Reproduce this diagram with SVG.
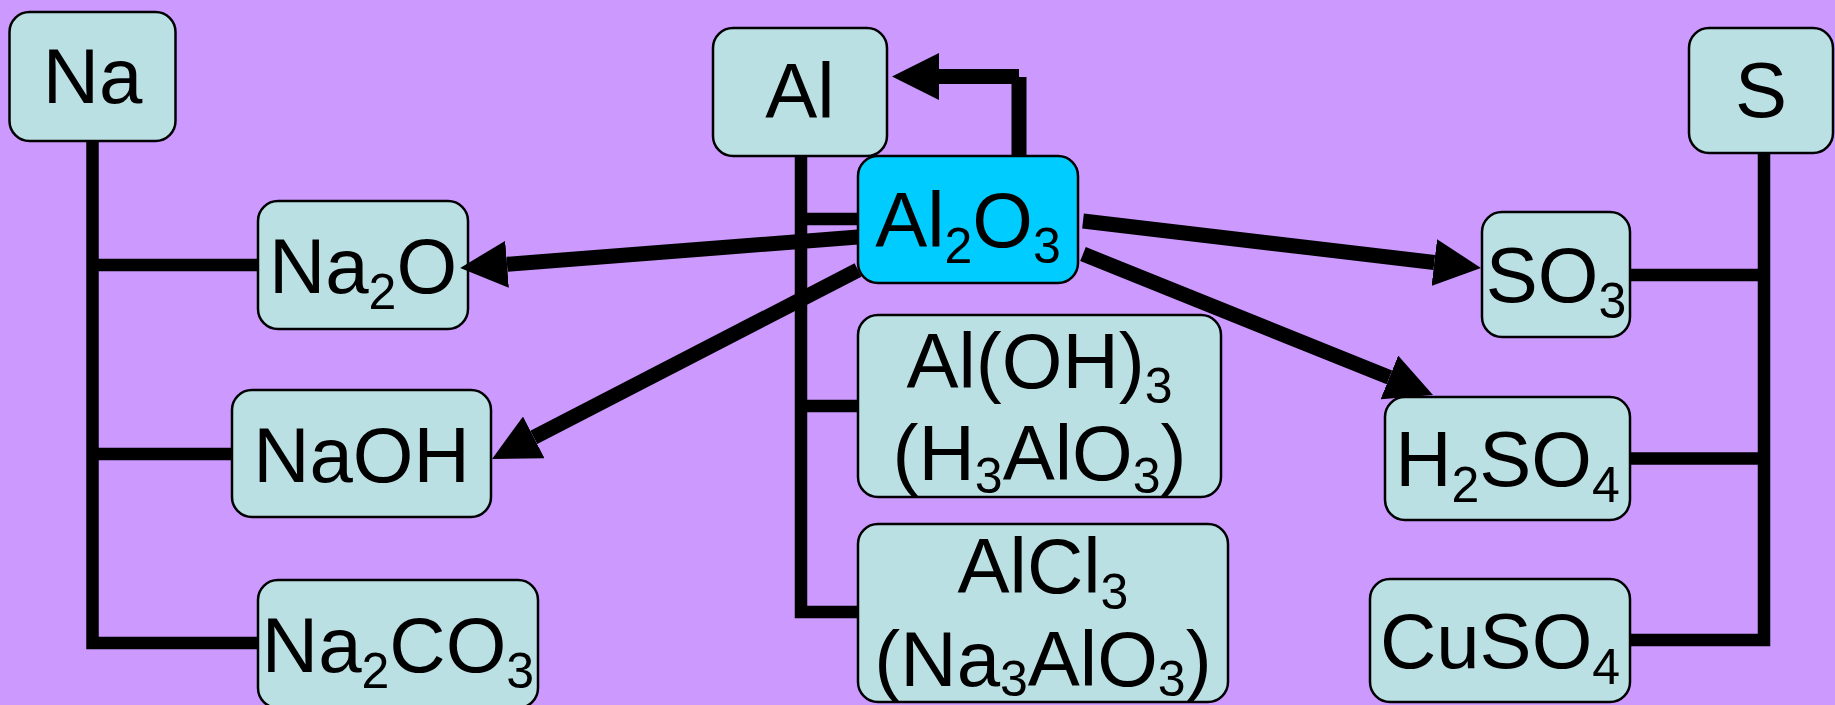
<svg xmlns="http://www.w3.org/2000/svg" width="1835" height="705" viewBox="0 0 1835 705">
<style>
.box{fill:#BBE0E3;stroke:#000;stroke-width:2.5}
.hl{fill:#00CCFF}
.t{font-family:"Liberation Sans",Arial,sans-serif;font-size:78px;fill:#000;text-anchor:middle}
.s{font-size:50px}
.tree{fill:none;stroke:#000;stroke-width:12.5;stroke-linejoin:miter}
.arr{fill:none;stroke:#000;stroke-width:15}
</style>
<defs>
<marker id="ah" markerUnits="userSpaceOnUse" viewBox="0 0 47 47" markerWidth="47" markerHeight="47" refX="0" refY="23.5" orient="auto">
<path d="M0,0 L47,23.5 L0,47 z" fill="#000"/>
</marker>
</defs>
<rect width="1835" height="705" fill="#CC99FF"/>

<g id="nodes">
<g id="n-Na"><rect class="box" x="9.5" y="12" width="166" height="129" rx="20"/><text class="t" x="92.5" y="103">Na</text></g>
<g id="n-Na2O"><rect class="box" x="258" y="201" width="210" height="128" rx="20"/><text class="t" x="363" y="293">Na<tspan class="s" dy="16">2</tspan><tspan dy="-16">O</tspan></text></g>
<g id="n-NaOH"><rect class="box" x="232" y="390" width="259" height="127" rx="20"/><text class="t" x="361.5" y="482">NaOH</text></g>
<g id="n-Na2CO3"><rect class="box" x="258" y="580" width="280" height="128" rx="20"/><text class="t" x="398" y="672">Na<tspan class="s" dy="16">2</tspan><tspan dy="-16">CO</tspan><tspan class="s" dy="16">3</tspan></text></g>
<g id="n-Al"><rect class="box" x="713" y="28" width="174" height="128" rx="20"/><text class="t" x="800" y="118">Al</text></g>
<g id="n-Al2O3"><rect class="box hl" x="858" y="156" width="220" height="127" rx="20"/><text class="t" x="968" y="247">Al<tspan class="s" dy="16">2</tspan><tspan dy="-16">O</tspan><tspan class="s" dy="16">3</tspan></text></g>
<g id="n-AlOH3"><rect class="box" x="858" y="315" width="363" height="182" rx="20"/><text class="t" x="1039.5" y="388">Al(OH)<tspan class="s" dy="15">3</tspan></text><text class="t" x="1039.5" y="480">(H<tspan class="s" dy="13">3</tspan><tspan dy="-13">AlO</tspan><tspan class="s" dy="13">3</tspan><tspan dy="-13">)</tspan></text></g>
<g id="n-AlCl3"><rect class="box" x="858" y="524" width="370" height="178" rx="20"/><text class="t" x="1043" y="593">AlCl<tspan class="s" dy="16">3</tspan></text><text class="t" x="1043" y="686">(Na<tspan class="s" dy="10">3</tspan><tspan dy="-10">AlO</tspan><tspan class="s" dy="10">3</tspan><tspan dy="-10">)</tspan></text></g>
<g id="n-S"><rect class="box" x="1689" y="28" width="144" height="125" rx="20"/><text class="t" x="1761" y="117">S</text></g>
<g id="n-SO3"><rect class="box" x="1482" y="212" width="148" height="125" rx="20"/><text class="t" x="1556" y="302">SO<tspan class="s" dy="16">3</tspan></text></g>
<g id="n-H2SO4"><rect class="box" x="1385" y="397" width="245" height="123" rx="20"/><text class="t" x="1507.5" y="486">H<tspan class="s" dy="16">2</tspan><tspan dy="-16">SO</tspan><tspan class="s" dy="16">4</tspan></text></g>
<g id="n-CuSO4"><rect class="box" x="1370" y="579" width="260" height="123" rx="20"/><text class="t" x="1500" y="668">CuSO<tspan class="s" dy="16">4</tspan></text></g>
</g>

<g id="connectors">
<path class="tree" d="M92.5,141 V643 H258"/>
<path class="tree" d="M92.5,265 H258"/>
<path class="tree" d="M92.5,454 H232"/>
<path class="tree" d="M801,156 V612 H858"/>
<path class="tree" d="M801,219 H858"/>
<path class="tree" d="M801,406 H858"/>
<path class="tree" d="M1764,153 V640 H1630"/>
<path class="tree" d="M1764,275 H1630"/>
<path class="tree" d="M1764,458.5 H1630"/>
<path class="arr" marker-end="url(#ah)" d="M1019,156 V77 M1019,76.5 H939"/>
<path class="arr" marker-end="url(#ah)" d="M858,237 L507,264.3"/>
<path class="arr" marker-end="url(#ah)" d="M858,270 L533.8,437.4"/>
<path class="arr" marker-end="url(#ah)" d="M1083,221 L1434.3,262.5"/>
<path class="arr" marker-end="url(#ah)" d="M1083,254 L1389.4,377.4"/>
</g>
</svg>
